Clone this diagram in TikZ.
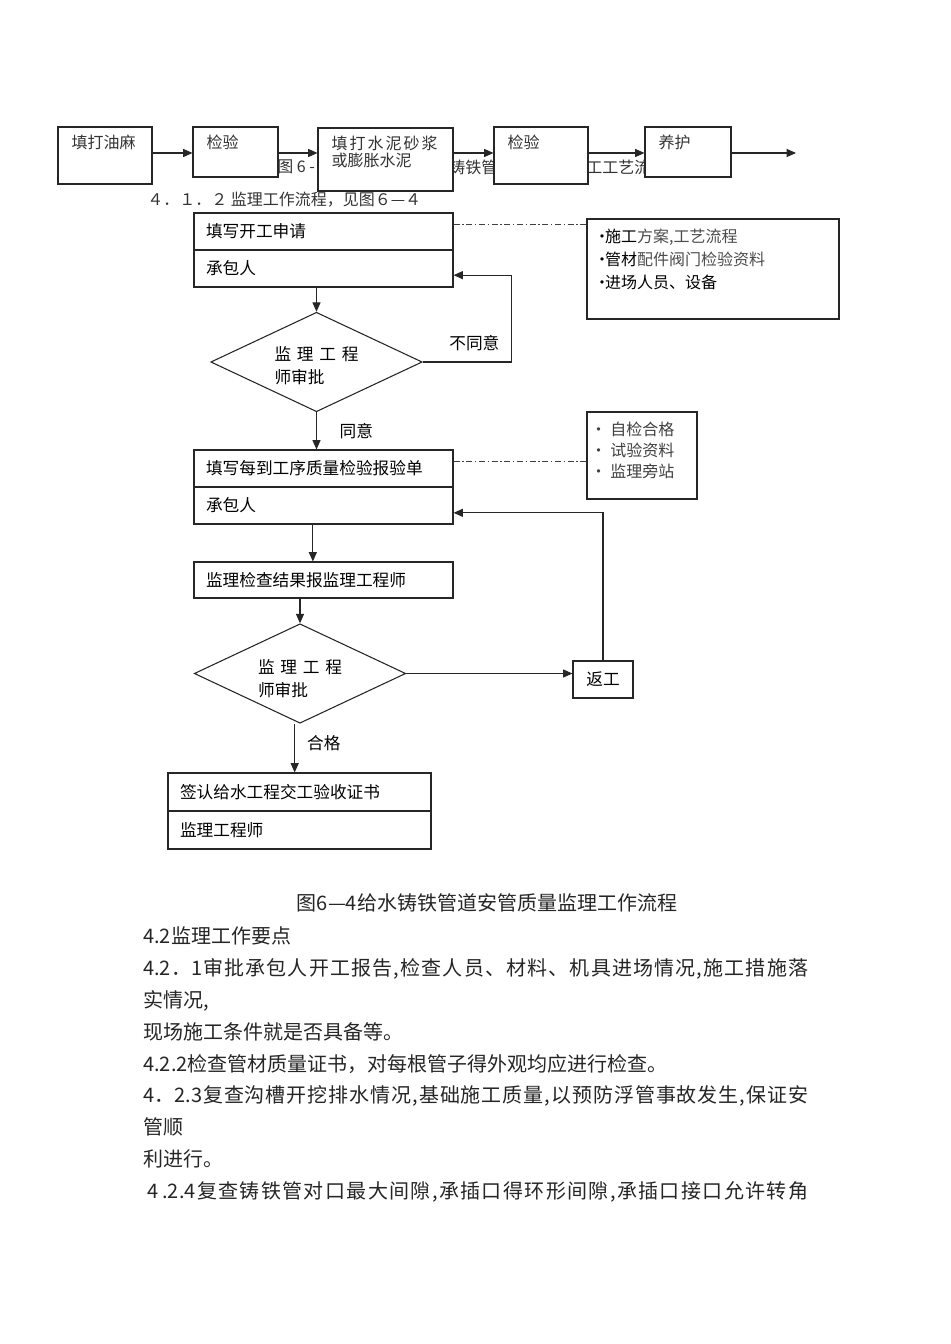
\documentclass[tikz,border=0pt]{standalone}
\usepackage{fontspec}
\setmainfont{Noto Sans CJK SC}
\usetikzlibrary{shapes.geometric,arrows.meta}
% glue between CJK characters, switched on only in justified lines
\newcount\cjkchar
\cjkchar="4E00
\loop \XeTeXcharclass\cjkchar=1 \advance\cjkchar by 1 \ifnum\cjkchar<"A000 \repeat
\XeTeXcharclass"3001=3
\XeTeXcharclass"FF0E=3
\XeTeXinterchartoks 1 1 = {\hskip 0pt plus 2pt\relax}
\XeTeXinterchartoks 1 3 = {\hskip 0pt plus 2pt\relax}
\XeTeXinterchartoks 3 1 = {\hskip 0pt plus 2pt\relax}
\XeTeXinterchartoks 0 1 = {\hskip 0pt plus 2pt\relax}
\XeTeXinterchartoks 1 0 = {\hskip 0pt plus 2pt\relax}
\newcommand\spreadline[2]{\makebox[#1][s]{\XeTeXinterchartokenstate=1 #2}}

\begin{document}
\begin{tikzpicture}[
    x=0.75pt, y=-0.75pt,
    ink/.style={draw=black!85, line width=0.8pt},
    arrow/.style={ink, -{Triangle[length=7pt,width=6pt]}},
    dashdot/.style={draw=black!75, line width=0.6pt, dash pattern=on 4.5pt off 2pt on 1pt off 2pt},
    stage/.style={ink, rectangle, fill=white, inner sep=0pt},
    stagetext/.style={anchor=north west, inner sep=0pt, xshift=10.5pt, yshift=-6.5pt, align=left, text=black!80, font=\fontsize{12}{12.75}\selectfont},
    fragment/.style={anchor=west, inner sep=0pt, text=black!80, font=\fontsize{12}{14}\selectfont},
    flow/.style={ink, rectangle, minimum height=27.75pt, inner xsep=9pt, inner ysep=0pt, text width=#1, align=left, font=\fontsize{12.5}{15}\selectfont},
    check/.style={ink, diamond, aspect=2.15, inner sep=0pt, minimum width=158.6pt, minimum height=74.6pt, align=left, font=\fontsize{12.5}{17.25}\selectfont},
    remark/.style={ink, rectangle, inner sep=0pt},
    remarktext/.style={anchor=north west, inner sep=0pt, xshift=10pt, yshift=-8pt, align=left, font=\fontsize{12}{16.9}\selectfont},
    flowlabel/.style={inner sep=0pt, font=\fontsize{12.5}{15}\selectfont}
]
\path[fill=white] (0,0) rectangle (950,1344);
\useasboundingbox (0,0) rectangle (950,1344);

% caption of the upper figure, mostly hidden by the boxes
\node[fragment] (capa) at (277,167) {图 6 -};
\node[fragment] (capb) at (449,167) {铸铁管道安装施};
\node[fragment] (capc) at (586,167) {工工艺流程};

% jointing steps
\coordinate (row) at (0,153);
\coordinate (rowend) at (796,153);
\node[stage, minimum width=70.5pt, minimum height=42.75pt, label={[stagetext]north west:填打油麻}] (oakum) at (105,155.5) {};
\node[stage, minimum width=63.75pt, minimum height=37.5pt, label={[stagetext]north west:检验}] (checka) at (235.5,152) {};
\node[stage, minimum width=101.25pt, minimum height=47.25pt, label={[stagetext]north west:{填\hspace{1.5pt}打\hspace{1.5pt}水\hspace{1.5pt}泥\hspace{1.5pt}砂\hspace{1.5pt}浆\\或膨胀水泥}}] (mortar) at (385.5,159.5) {};
\node[stage, minimum width=70.5pt, minimum height=42.75pt, label={[stagetext]north west:检验}] (checkb) at (541,155.5) {};
\node[stage, minimum width=64.5pt, minimum height=37.5pt, label={[stagetext]north west:养护}] (curing) at (688,152) {};

\draw[arrow] (oakum.east |- row) -- (checka.west |- row);
\draw[arrow] (checka.east |- row) -- (mortar.west |- row);
\draw[arrow] (mortar.east |- row) -- (checkb.west |- row);
\draw[arrow] (checkb.east |- row) -- (curing.west |- row);
\draw[arrow] (curing.east |- row) -- (rowend);

\node[fragment] (section) at (147,200) {４．１．２ 监理工作流程，见图６—４};

% start of work
\node[flow=176.25pt] (applyform) at (323.5,231.5) {填写开工申请};
\node[flow=176.25pt] (applycontractor) at (323.5,268.5) {承包人};
\node[remark, minimum width=189pt, minimum height=75pt,
      label={[remarktext, xshift=-4.5pt]north west:{·\kern-3.75pt施工{\color{black!70}方案,工艺流程}\\·\kern-3.75pt管材{\color{black!70}配件阀门检验资料}\\·\kern-3.75pt进场人员、设备}}] (paperwork) at (713,269) {};
\draw[dashdot] ([yshift=5pt]applyform.east) -- ([yshift=5pt]applyform.east -| paperwork.west);

\node[check] (approvea) at (316.5,362) {\rule{0pt}{16.5pt}监\hspace{4.3pt}理\hspace{4.3pt}工\hspace{4.3pt}程\\师审批};
\draw[arrow] (applycontractor.south -| approvea.north) -- (approvea.north);
\draw[arrow] (approvea.east) -- node[flowlabel, above=8pt, pos=0.58] {不同意} ++(89,0) |- ([yshift=-5pt]applycontractor.east);

% each process
\node[flow=176.25pt] (inspectform) at (323.5,468.5) {填写每到工序质量检验报验单};
\node[flow=176.25pt] (inspectcontractor) at (323.5,505.5) {承包人};
\draw[arrow] (approvea.south) -- node[flowlabel, right=17pt, midway] {同意} (approvea.south |- inspectform.north);
\node[remark, minimum width=82.5pt, minimum height=65.25pt,
      label={[remarktext, xshift=-7pt, text=black!75, font=\fontsize{12}{15.4}\selectfont]north west:{· 自检合格\\· 试验资料\\· 监理旁站}}] (selfcheck) at (642,455.5) {};
\draw[dashdot] ([yshift=5pt]inspectform.east) -- ([yshift=5pt]inspectform.east -| selfcheck.west);

\node[flow=176.25pt, minimum height=27pt] (report) at (323.5,580) {监理检查结果报监理工程师};
\draw[arrow] ([xshift=-8pt]inspectcontractor.south) -- ([xshift=-8pt]report.north);

\node[check] (approveb) at (300,673.5) {\rule{0pt}{17.5pt}监\hspace{4.3pt}理\hspace{4.3pt}工\hspace{4.3pt}程\\师审批};
\draw[arrow] (report.south -| approveb.north) -- (approveb.north);

\node[stage, minimum width=45pt, minimum height=27.75pt, font=\fontsize{12.5}{15}\selectfont] (rework) at (603,679.5) {返工};
\draw[arrow] (approveb.east) -- (approveb.east -| rework.west);
\draw[arrow] (rework.north) |- ([yshift=-5.5pt]inspectcontractor.east);

% acceptance
\node[flow=179.25pt, minimum height=28.5pt] (acceptform) at (299.5,792) {签认给水工程交工验收证书};
\node[flow=179.25pt, minimum height=28.5pt] (acceptengineer) at (299.5,830) {监理工程师};
\draw[arrow] ([xshift=-4pt]approveb.south) -- node[flowlabel, right=9pt, pos=0.4] {合格} ([xshift=-4pt]approveb.south |- acceptform.north);

% caption and notes below
\node[inner sep=0pt, font=\fontsize{15}{18}\selectfont, text=black!85] (figcaption) at (487,903) {图6—4给水铸铁管道安管质量监理工作流程};
\node[anchor=north west, inner sep=0pt, align=left, text=black!85, font=\fontsize{15}{23.9}\selectfont] (points) at (143,926.5) {%
4.2监理工作要点\\
\spreadline{498.75pt}{4.2．1审批承包人开工报告,检查人员、材料、机具进场情况,施工措施落}\\
实情况,\\
现场施工条件就是否具备等。\\
4.2.2检查管材质量证书，对每根管子得外观均应进行检查。\\
\spreadline{498.75pt}{4．2.3复查沟槽开挖排水情况,基础施工质量,以预防浮管事故发生,保证安}\\
管顺\\
利进行。\\
\hspace*{3pt}\spreadline{495.75pt}{4\hspace{3pt}.2.4复查铸铁管对口最大间隙,承插口得环形间隙,承插口接口允许转角}};
\end{tikzpicture}
\end{document}
